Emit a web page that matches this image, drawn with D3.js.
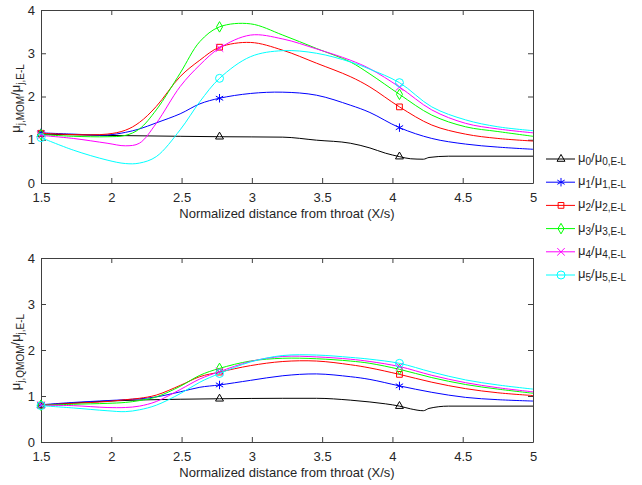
<!DOCTYPE html>
<html lang="en">
<head>
<meta charset="utf-8">
<title>Moment ratios along the nozzle</title>
<script src="https://d3js.org/d3.v7.min.js"></script>
<style>
    body { margin: 0; background: white; }
    svg { display: block; }
    text { font-family: "Liberation Sans", Arial, sans-serif; fill: #262626; }
</style>
</head>
<body>
<div id="container"></div>
<script>
    // x positions of the sampled points (shared by the moment 1..5 curves)
    const xGrid = [1.5, 1.73, 1.97, 2.1, 2.2, 2.32, 2.49, 2.63, 2.77, 2.99, 3.22, 3.46, 3.7, 3.84, 4.05, 4.28, 4.52, 4.75, 5.0];
    // the zeroth moment has its own grid because of the kink near 4.2
    const xBlack = [1.5, 1.97, 2.49, 2.77, 3.22, 3.46, 3.7, 3.84, 3.95, 4.05, 4.13, 4.22, 4.26, 4.4, 5.0];
    const markerX = [1.5, 2.77, 4.05];

    // top panel: MOM
    const momMu0 = [1.13, 1.10, 1.08, 1.07, 1.06, 0.99, 0.92, 0.81, 0.69, 0.61, 0.56, 0.55, 0.59, 0.62, 0.62];
    const momMu1 = [1.16, 1.13, 1.11, 1.17, 1.25, 1.39, 1.60, 1.83, 1.96, 2.07, 2.10, 2.03, 1.80, 1.63, 1.28, 1.03, 0.90, 0.83, 0.78];
    const momMu2 = [1.15, 1.12, 1.13, 1.22, 1.40, 1.77, 2.46, 2.84, 3.14, 3.25, 3.07, 2.77, 2.46, 2.22, 1.76, 1.34, 1.13, 1.03, 0.97];
    const momMu3 = [1.12, 1.08, 1.07, 1.10, 1.25, 1.69, 2.54, 3.27, 3.61, 3.68, 3.42, 3.11, 2.80, 2.52, 2.05, 1.57, 1.30, 1.19, 1.08];
    const momMu4 = [1.10, 1.03, 0.92, 0.86, 0.92, 1.38, 2.23, 2.73, 3.12, 3.42, 3.33, 3.10, 2.84, 2.64, 2.22, 1.69, 1.38, 1.25, 1.16];
    const momMu5 = [1.05, 0.76, 0.53, 0.45, 0.46, 0.61, 1.23, 1.88, 2.42, 2.92, 3.06, 3.00, 2.80, 2.63, 2.32, 1.76, 1.46, 1.30, 1.21];

    // bottom panel: QMOM
    const qmomMu0 = [0.80, 0.89, 0.93, 0.94, 0.95, 0.95, 0.91, 0.87, 0.83, 0.78, 0.72, 0.68, 0.73, 0.78, 0.78];
    const qmomMu1 = [0.81, 0.86, 0.90, 0.92, 0.94, 0.98, 1.09, 1.19, 1.24, 1.34, 1.44, 1.48, 1.42, 1.36, 1.22, 1.08, 0.97, 0.92, 0.89];
    const qmomMu2 = [0.80, 0.84, 0.88, 0.92, 0.95, 1.02, 1.23, 1.42, 1.52, 1.66, 1.75, 1.76, 1.68, 1.61, 1.47, 1.30, 1.16, 1.07, 1.01];
    const qmomMu3 = [0.80, 0.82, 0.84, 0.86, 0.90, 0.98, 1.21, 1.45, 1.60, 1.76, 1.82, 1.81, 1.76, 1.71, 1.58, 1.40, 1.25, 1.15, 1.06];
    const qmomMu4 = [0.80, 0.79, 0.75, 0.75, 0.78, 0.88, 1.14, 1.37, 1.53, 1.75, 1.86, 1.85, 1.80, 1.75, 1.64, 1.45, 1.29, 1.18, 1.09];
    const qmomMu5 = [0.79, 0.74, 0.68, 0.66, 0.70, 0.80, 1.05, 1.30, 1.49, 1.74, 1.88, 1.89, 1.84, 1.80, 1.71, 1.52, 1.35, 1.24, 1.15];

    const xTicks = [1.5, 2, 2.5, 3, 3.5, 4, 4.5, 5];
    const yTicks = [0, 1, 2, 3, 4];
    const momentIdx = ["0", "1", "2", "3", "4", "5"];
    const colors = ["#000000", "#0000ff", "#ff0000", "#00ff00", "#ff00ff", "#00ffff"];
    const symbols = [d3.symbolTriangle2, d3.symbolAsterisk, d3.symbolSquare2, d3.symbolDiamond, d3.symbolTimes, d3.symbolCircle];
    const symbolSizes = [45, 50, 42, 32, 38, 50];

    const w = 642, h = 485;
    const left = 41, right = 533;

    const svg = d3.select("#container").append("svg")
        .attr("width", w)
        .attr("height", h);

    const xScale = d3.scaleLinear().domain([1.5, 5]).range([left, right]);

    const panels = [
        { top: 10, bottom: 183, method: "MOM",
          data: [momMu0, momMu1, momMu2, momMu3, momMu4, momMu5] },
        { top: 258, bottom: 442, method: "QMOM",
          data: [qmomMu0, qmomMu1, qmomMu2, qmomMu3, qmomMu4, qmomMu5] }
    ];

    const fmt = d => String(d);

    panels.forEach(p => {
        const yScale = d3.scaleLinear().domain([0, 4]).range([p.bottom, p.top]);
        const g = svg.append("g");

        // axes, ticks pointing inwards on all four sides
        const axisStyle = sel => {
            sel.selectAll("path").attr("stroke", "#404040").attr("stroke-width", 1);
            sel.selectAll("line").attr("stroke", "#404040");
            sel.selectAll("text").attr("font-size", 13).attr("fill", "#262626")
                .attr("font-family", "'Liberation Sans', Arial, sans-serif");
        };
        g.append("g").attr("transform", `translate(0,${p.bottom})`)
            .call(d3.axisBottom(xScale).tickValues(xTicks).tickFormat(fmt)
                .tickSizeInner(-5).tickSizeOuter(0).tickPadding(10))
            .call(axisStyle);
        g.append("g").attr("transform", `translate(0,${p.top})`)
            .call(d3.axisTop(xScale).tickValues(xTicks).tickFormat("")
                .tickSizeInner(-5).tickSizeOuter(0))
            .call(axisStyle);
        g.append("g").attr("transform", `translate(${left},0)`)
            .call(d3.axisLeft(yScale).tickValues(yTicks).tickFormat(fmt)
                .tickSizeInner(-5).tickSizeOuter(0).tickPadding(6))
            .call(axisStyle);
        g.append("g").attr("transform", `translate(${right},0)`)
            .call(d3.axisRight(yScale).tickValues(yTicks).tickFormat("")
                .tickSizeInner(-5).tickSizeOuter(0))
            .call(axisStyle);

        // x label
        g.append("text")
            .attr("x", (left + right) / 2)
            .attr("y", p.bottom + 35)
            .attr("text-anchor", "middle")
            .attr("font-size", 13)
            .text("Normalized distance from throat (X/s)");

        // y label  mu_{j,METHOD} / mu_{j,E-L}
        const yl = g.append("text")
            .attr("transform", `translate(20,${(p.top + p.bottom) / 2 + 2}) rotate(-90)`)
            .attr("text-anchor", "middle")
            .attr("font-size", 13);
        yl.append("tspan").text("\u03bc");
        yl.append("tspan").attr("font-size", 10).attr("dy", 4).text("j," + p.method);
        yl.append("tspan").attr("dy", -4).text("/\u03bc");
        yl.append("tspan").attr("font-size", 10).attr("dy", 4).text("j,E-L");

        // curves
        p.data.forEach((vals, i) => {
            const xs = i === 0 ? xBlack : xGrid;
            const pts = vals.map((v, k) => [xs[k], v]);
            const line = d3.line()
                .x(d => xScale(d[0]))
                .y(d => yScale(d[1]))
                .curve(i === 0 ? d3.curveMonotoneX : d3.curveCatmullRom.alpha(0.5));
            g.append("path")
                .datum(pts)
                .attr("fill", "none")
                .attr("stroke", colors[i])
                .attr("stroke-width", 1)
                .attr("d", line);

            const mpts = pts.filter(d => markerX.some(m => Math.abs(m - d[0]) < 1e-6));
            g.selectAll(null)
                .data(mpts)
                .enter()
                .append("path")
                .attr("transform", d => `translate(${xScale(d[0])},${yScale(d[1])})`)
                .attr("d", d3.symbol().type(symbols[i]).size(symbolSizes[i]))
                .attr("fill", "none")
                .attr("stroke", colors[i])
                .attr("stroke-width", 1);
        });
    });

    // legend
    const legY0 = 159, legStep = 23.2;
    momentIdx.forEach((m, i) => {
        const ly = legY0 + i * legStep;
        const lg = svg.append("g");
        lg.append("line")
            .attr("x1", 546).attr("x2", 575)
            .attr("y1", ly).attr("y2", ly)
            .attr("stroke", colors[i]).attr("stroke-width", 1);
        lg.append("path")
            .attr("transform", `translate(561,${ly})`)
            .attr("d", d3.symbol().type(symbols[i]).size(symbolSizes[i]))
            .attr("fill", "none")
            .attr("stroke", colors[i]);
        const t = lg.append("text")
            .attr("x", 578).attr("y", ly + 3)
            .attr("font-size", 13);
        t.append("tspan").text("\u03bc");
        t.append("tspan").attr("font-size", 10).attr("dy", 3).text(m);
        t.append("tspan").attr("dy", -3).text("/\u03bc");
        t.append("tspan").attr("font-size", 10).attr("dy", 3).text(m + ",E-L");
    });
</script>
</body>
</html>
